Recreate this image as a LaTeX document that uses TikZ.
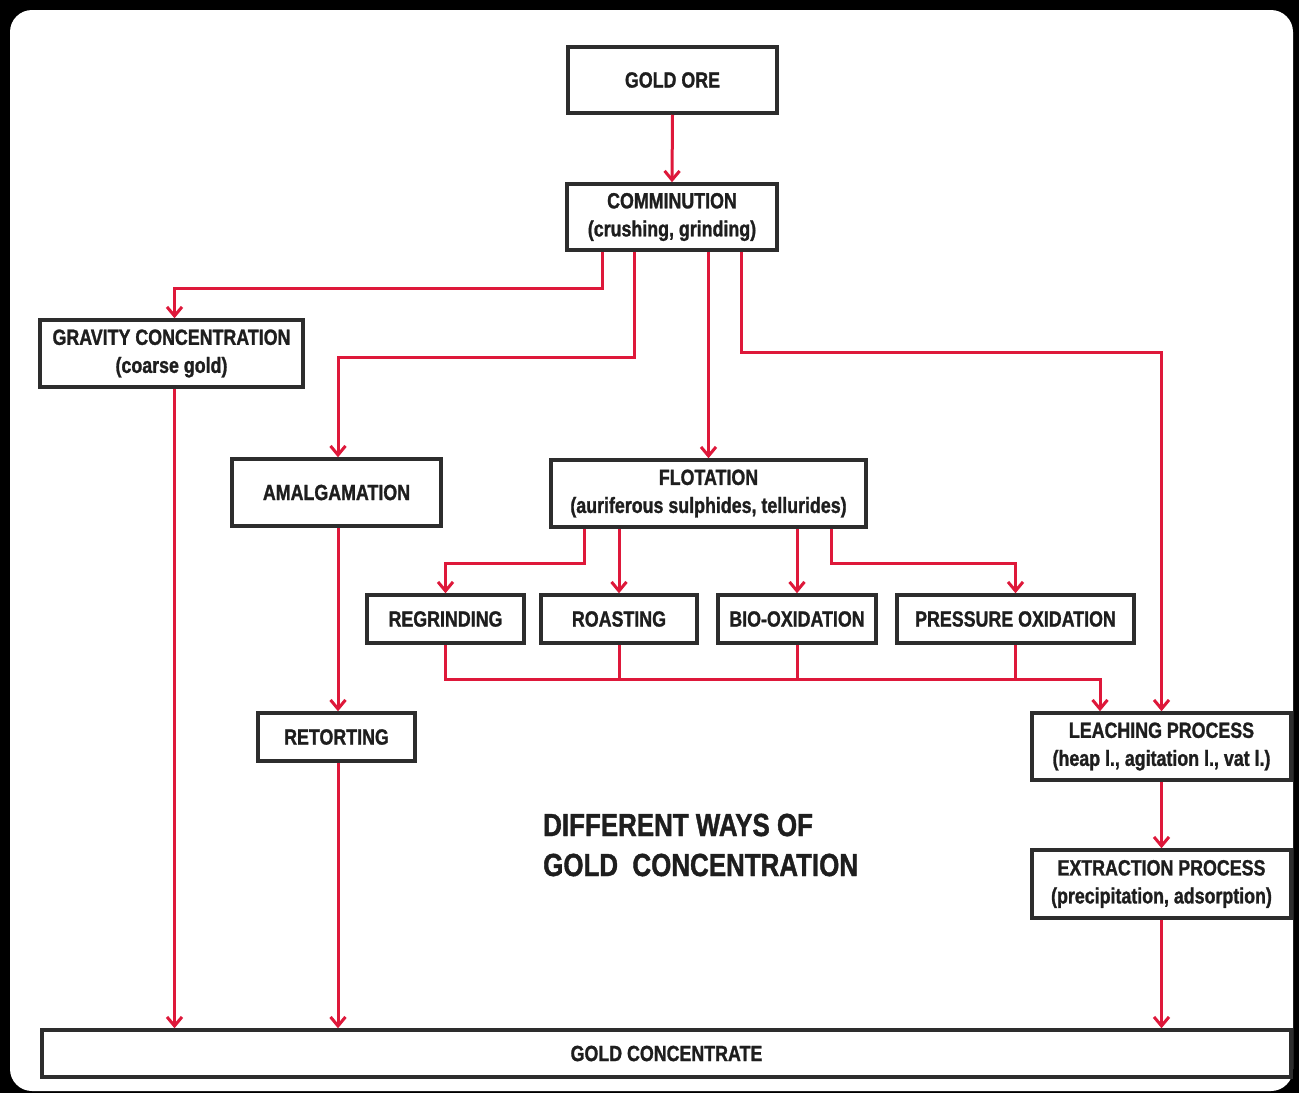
\documentclass[tikz,border=0pt]{standalone}
\usepackage{fontspec}
\newfontfamily\lab[FakeStretch=0.81,FakeBold=1.2]{Liberation Sans}
\usetikzlibrary{arrows.meta}
\definecolor{flowred}{RGB}{222,24,58}
\definecolor{boxgray}{RGB}{45,45,45}
\definecolor{txt}{RGB}{30,30,30}
\begin{document}
\begin{tikzpicture}[x=1pt,y=-1pt,
  box/.style={draw=boxgray, line width=3.5pt, fill=white, align=center, inner sep=0pt,
    text=txt, font=\lab\bfseries\fontsize{22}{28}\selectfont},
  flow/.style={draw=flowred, line width=3pt},
  arr/.style={flow, -{Straight Barb[length=9pt,width=15pt]}}]
% frame
\fill[black] (0,0) rectangle (1299,1093);
\fill[white, rounded corners=22pt] (10,10) rectangle (1293,1091);
\useasboundingbox (0,0) rectangle (1299,1093);
% nodes
\node[box, minimum width=209pt, minimum height=66pt] (ore) at (672.5,80) {GOLD ORE};
\node[box, minimum width=210pt, minimum height=66pt] (comm) at (672,217) {COMMINUTION\\(crushing, grinding)};
\node[box, minimum width=263pt, minimum height=67pt] (grav) at (171.5,353.5) {GRAVITY CONCENTRATION\\(coarse gold)};
\node[box, minimum width=209pt, minimum height=67pt] (amal) at (336.5,492.5) {AMALGAMATION};
\node[box, minimum width=315pt, minimum height=67pt] (flot) at (708.5,493.5) {FLOTATION\\(auriferous sulphides, tellurides)};
\node[box, minimum width=157pt, minimum height=48pt] (regr) at (445.5,619) {REGRINDING};
\node[box, minimum width=156pt, minimum height=48pt] (roast) at (619,619) {ROASTING};
\node[box, minimum width=158pt, minimum height=48pt] (bio) at (797,619) {BIO-OXIDATION};
\node[box, minimum width=237pt, minimum height=48pt] (press) at (1015.5,619) {PRESSURE OXIDATION};
\node[box, minimum width=157pt, minimum height=48pt] (ret) at (336.5,737) {RETORTING};
\node[box, minimum width=259pt, minimum height=67pt] (leach) at (1161.5,746.5) {LEACHING PROCESS\\(heap l., agitation l., vat l.)};
\node[box, minimum width=259pt, minimum height=68pt] (extr) at (1161.5,884) {EXTRACTION PROCESS\\(precipitation, adsorption)};
\node[box, minimum width=1249pt, minimum height=47pt] (conc) at (666.5,1053.5) {GOLD CONCENTRATE};
\node[anchor=west, align=left, inner sep=0pt, text=txt,
  font=\lab\bfseries\fontsize{32}{40}\selectfont] (title) at (543,845)
  {DIFFERENT WAYS OF\\GOLD\ \ CONCENTRATION};
% connectors
\draw[arr] (ore.south) -- (comm.north);
\draw[arr] ([xshift=-70pt]comm.south) -- ++(0,37) -| ([xshift=3pt]grav.north);
\draw[arr] ([xshift=-38pt]comm.south) -- ++(0,106) -| ([xshift=1.5pt]amal.north);
\draw[arr] (comm.south -| flot.north) -- (flot.north);
\draw[arr] ([xshift=69pt]comm.south) -- ++(0,101) -| (leach.north);
\draw[arr] ([xshift=3pt]grav.south) -- ([xshift=3pt]grav.south |- conc.north);
\draw[arr] ([xshift=1.5pt]amal.south) -- ([xshift=1.5pt]ret.north);
\draw[arr] ([xshift=1.5pt]ret.south) -- ([xshift=1.5pt]ret.south |- conc.north);
\draw[arr] ([xshift=-124.5pt]flot.south) -- ++(0,35) -| (regr.north);
\draw[arr] (flot.south -| roast.north) -- (roast.north);
\draw[arr] (flot.south -| bio.north) -- (bio.north);
\draw[arr] ([xshift=122.5pt]flot.south) -- ++(0,35) -| (press.north);
\coordinate (jn) at (1100,679);
\draw[arr] (regr.south) |- (jn) -- (jn |- leach.north);
\draw[flow] (roast.south) -- (roast.south |- jn);
\draw[flow] (bio.south) -- (bio.south |- jn);
\draw[flow] (press.south) -- (press.south |- jn);
\draw[arr] (leach.south) -- (extr.north);
\draw[arr] (extr.south) -- (extr.south |- conc.north);
\end{tikzpicture}
\end{document}
